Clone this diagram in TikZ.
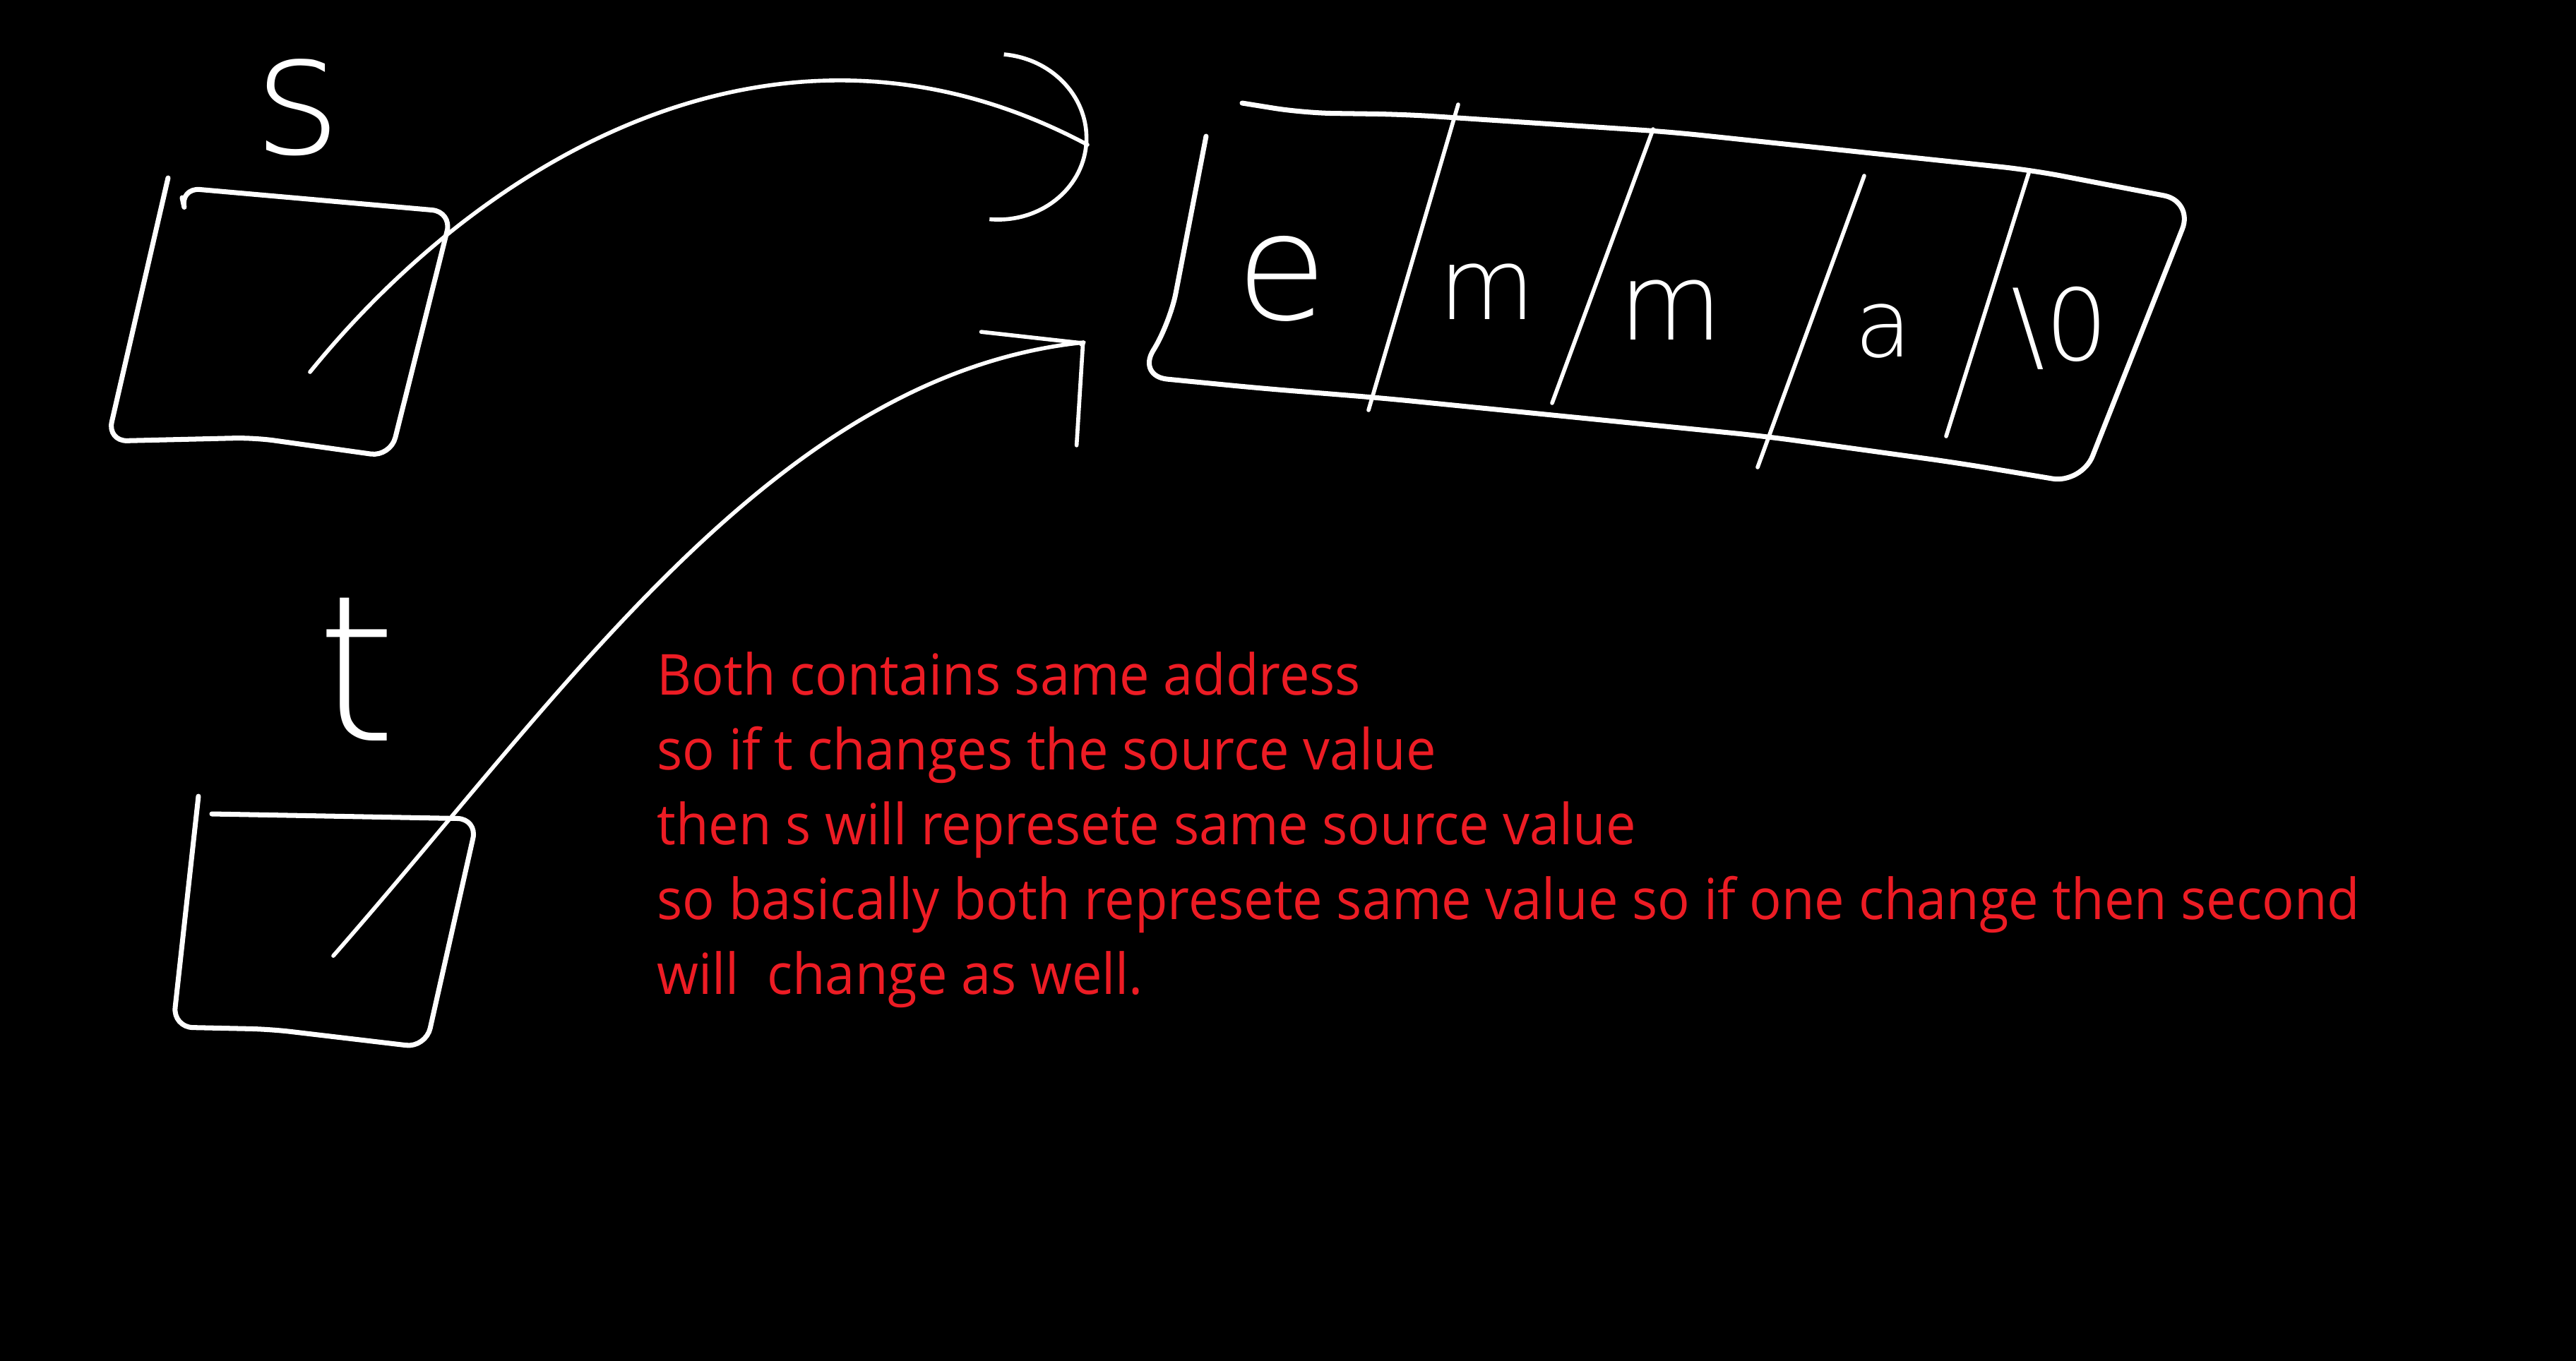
\documentclass[tikz,border=0pt]{standalone}
\usepackage{fontspec}
\setmainfont{Open Sans}
\newfontfamily\notefont[FakeStretch=0.945]{Open Sans}
\newfontfamily\handfont{DejaVu Sans ExtraLight}
\usetikzlibrary{arrows.meta}
\definecolor{notered}{RGB}{237,28,36}

\begin{document}
\begin{tikzpicture}[pen/.style={draw=white,line width=2pt,line cap=round,line join=round},
  link/.style={pen,line width=1.6pt}, glyph/.style={text=white,inner sep=0pt,anchor=base,
  font={\handfont\fontsize{#1}{#1}\selectfont}}, note/.style={text=notered,inner sep=0pt,align=left,
  font=\notefont\fontsize{22.8pt}{30.15pt}\selectfont}]
  \useasboundingbox[fill=black] (0,0) rectangle (36.48,-19.28);
  % pointer s
  \node[glyph=68pt] (sname) at (4.22,-2.17) {s};
  \draw[pen,rounded corners=8pt] (2.38,-2.52) -- (1.52,-6.25) -- (3.6,-6.20) -- (5.53,-6.47)
    -- (6.40,-3.00) -- (2.55,-2.66) -- (2.58,-2.80);
  \coordinate (sfrom) at (4.39,-5.27);
  % pointer t
  \node[glyph=82pt] (tname) at (5.05,-10.49) {t};
  \draw[pen,rounded corners=8pt] (2.81,-11.28) -- (2.45,-14.55) -- (3.83,-14.58) -- (6.03,-14.84)
    -- (6.76,-11.60) -- (3.0,-11.53);
  \coordinate (tfrom) at (4.72,-13.54);
  % the string
  \draw[pen,rounded corners=12pt] (17.59,-1.46) -- (18.46,-1.60) -- (19.89,-1.62) -- (23.66,-1.87)
    -- (28.77,-2.41) -- (31.06,-2.85) -- (29.48,-6.85) -- (27.74,-6.56) -- (24.99,-6.18)
    -- (19.58,-5.64) -- (17.85,-5.50) -- (16.11,-5.33) -- (16.57,-4.57) -- (17.08,-1.93);
  \foreach \xa/\ya/\xb/\yb in {20.65/-1.48/19.38/-5.81, 23.41/-1.83/21.98/-5.71,
    26.40/-2.49/24.89/-6.62, 28.73/-2.45/27.56/-6.18}
    \draw[link] (\xa,\ya) -- (\xb,\yb);
  \node[glyph=60pt] (c1) at (18.15,-4.52) {e};
  \node[glyph=40pt] (c2) at (21.06,-4.52) {m};
  \node[glyph=43pt] (c3) at (23.66,-4.81) {m};
  \node[glyph=38pt] (c4) at (26.67,-5.05) {a};
  \node[glyph=40pt] (c5) at (29.17,-5.10) {\textbackslash0};
  \coordinate (sto) at (15.4,-2.05);
  \coordinate (tto) at (15.35,-4.85);
  % both point to the same place
  \draw[link,-{Arc Barb[length=13mm,width=24mm]}] (sfrom) .. controls (6.8,-2.3) and (11.0,0.3) .. (sto) -- ++(-5:0.01);
  \draw[link,-{Straight Barb[round,length=10mm,width=21mm]}] (tfrom) .. controls (8.0,-9.8) and (11.0,-5.3) .. (tto) -- ++(40:0.01);
  \node[note,anchor=north west] (expl) at (9.30,-9.23) {Both contains same address\\
    so if t changes the source value\\
    then s will represete same source value\\
    so basically both represete same value so if one change then second\\
    will~~change as well.};
\end{tikzpicture}
\end{document}
